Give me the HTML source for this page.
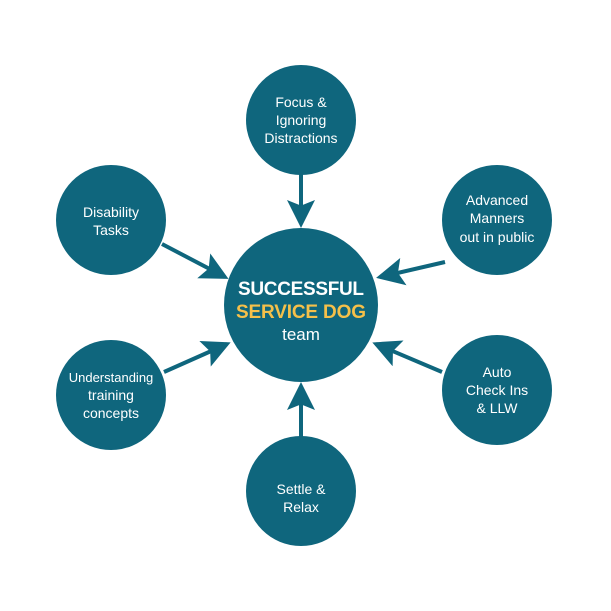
<!DOCTYPE html>
<html><head><meta charset="utf-8"><style>
html,body{margin:0;padding:0;background:#fff;}
svg{display:block}
text{font-family:"Liberation Sans",sans-serif;}
</style></head><body>
<svg width="611" height="611" viewBox="0 0 611 611">
<defs>
<marker id="a" markerWidth="7" markerHeight="7" refX="6" refY="3.5" orient="auto" markerUnits="strokeWidth">
<path d="M0,0 L7,3.5 L0,7 L1.4,3.5 Z" fill="#0f667d"/>
</marker>
</defs>
<g stroke="#0f667d" stroke-width="4" marker-end="url(#a)">
<line x1="301" y1="174" x2="301" y2="224"/>
<line x1="162" y1="244" x2="225" y2="277"/>
<line x1="445" y1="262" x2="380" y2="277"/>
<line x1="164" y1="372" x2="227" y2="344"/>
<line x1="442" y1="372" x2="376" y2="344"/>
<line x1="301" y1="438" x2="301" y2="386"/>
</g>
<g fill="#0f667d">
<circle cx="301" cy="305" r="77"/>
<circle cx="301" cy="120" r="55"/>
<circle cx="111" cy="220" r="55"/>
<circle cx="497" cy="220" r="55"/>
<circle cx="111" cy="395" r="55"/>
<circle cx="497" cy="390" r="55"/>
<circle cx="301" cy="491" r="55"/>
</g>
<g fill="#fff" font-size="14" text-anchor="middle">
<text x="301" y="107">Focus &amp;</text>
<text x="301" y="125">Ignoring</text>
<text x="301" y="143">Distractions</text>
<text x="111" y="217">Disability</text>
<text x="111" y="235">Tasks</text>
<text x="497" y="205">Advanced</text>
<text x="497" y="223">Manners</text>
<text x="497" y="242">out in public</text>
<text x="111" y="382" font-size="13">Understanding</text>
<text x="111" y="400">training</text>
<text x="111" y="418">concepts</text>
<text x="497" y="377">Auto</text>
<text x="497" y="395">Check Ins</text>
<text x="497" y="413">&amp; LLW</text>
<text x="301" y="494">Settle &amp;</text>
<text x="301" y="512">Relax</text>
</g>
<text x="301" y="295" fill="#fff" font-size="19" font-weight="bold" text-anchor="middle" textLength="126" lengthAdjust="spacing">SUCCESSFUL</text>
<text x="301" y="318" fill="#f5c04a" font-size="19" font-weight="bold" text-anchor="middle" textLength="130" lengthAdjust="spacing">SERVICE DOG</text>
<text x="301" y="340" fill="#fff" font-size="17" text-anchor="middle">team</text>
</svg>
</body></html>
